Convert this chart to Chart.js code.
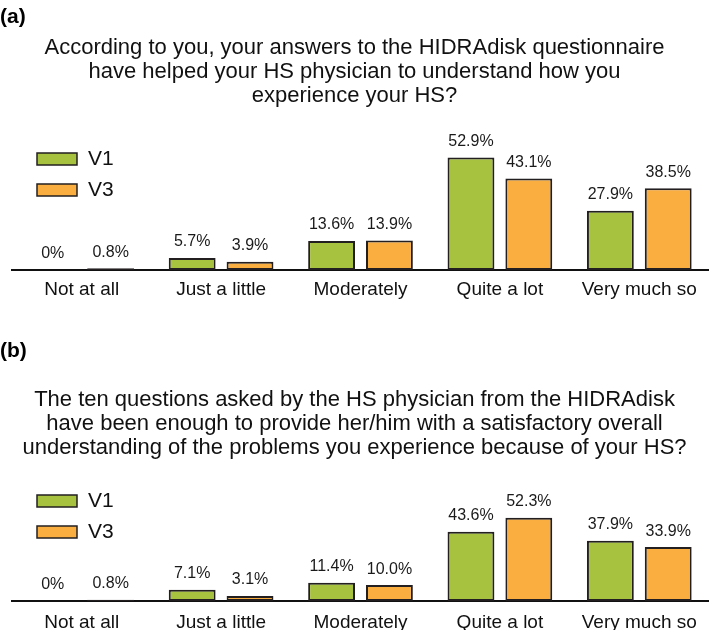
<!DOCTYPE html>
<html>
<head>
<meta charset="utf-8">
<script src="https://cdn.jsdelivr.net/npm/chart.js@4/dist/chart.umd.min.js"></script>
<style>
  html, body { margin: 0; padding: 0; background: #fff; }
  #wrap { position: relative; width: 709px; height: 630px; overflow: hidden; }
  canvas { position: absolute; left: 0; display: block; }
  #ca { top: 0; }
  #cb { top: 320px; }
</style>
</head>
<body>
<div id="wrap">
  <canvas id="ca" width="709" height="320"></canvas>
  <canvas id="cb" width="709" height="310"></canvas>
</div>
<script>
// ---- data ----
const categories = ['Not at all', 'Just a little', 'Moderately', 'Quite a lot', 'Very much so'];
const seriesNames = ['V1', 'V3'];
const panelLabels = ['(a)', '(b)'];
const questionA = [
  'According to you, your answers to the HIDRAdisk questionnaire',
  'have helped your HS physician to understand how you',
  'experience your HS?'
];
const questionB = [
  'The ten questions asked by the HS physician from the HIDRAdisk',
  'have been enough to provide her/him with a satisfactory overall',
  'understanding of the problems you experience because of your HS?'
];
const aV1 = [0, 5.7, 13.6, 52.9, 27.9];
const aV3 = [0.8, 3.9, 13.9, 43.1, 38.5];
const bV1 = [0, 7.1, 11.4, 43.6, 37.9];
const bV3 = [0.8, 3.1, 10.0, 52.3, 33.9];

// ---- styles ----
const FONT = "'Liberation Sans', Arial, Helvetica, sans-serif";
const GREEN = '#a6c23e';
const ORANGE = '#fbae40';
const EDGE = '#231f20';

function fmt(v) { return v === 0 ? '0%' : v.toFixed(1) + '%'; }

const valueLabels = {
  id: 'valueLabels',
  afterDatasetsDraw(chart) {
    const ctx = chart.ctx;
    ctx.save();
    ctx.font = '16px ' + FONT;
    ctx.fillStyle = '#1a1a1a';
    ctx.textAlign = 'center';
    ctx.textBaseline = 'middle';
    chart.data.datasets.forEach((ds, di) => {
      const meta = chart.getDatasetMeta(di);
      meta.data.forEach((el, i) => {
        ctx.fillText(fmt(ds.data[i]), el.x, el.y - 16);
      });
    });
    ctx.restore();
  }
};

const boxLegend = {
  id: 'boxLegend',
  afterDraw(chart, args, opts) {
    const ctx = chart.ctx;
    ctx.save();
    ctx.font = '21px ' + FONT;
    ctx.textBaseline = 'middle';
    ctx.textAlign = 'left';
    chart.data.datasets.forEach((ds, i) => {
      const y = opts.top + i * opts.gap;
      ctx.fillStyle = ds.backgroundColor;
      ctx.fillRect(37, y, 40, 12);
      ctx.strokeStyle = EDGE;
      ctx.lineWidth = 1.5;
      ctx.strokeRect(37, y, 40, 12);
      ctx.fillStyle = '#111';
      ctx.fillText(ds.label, 88, y + 6.5);
    });
    ctx.restore();
  }
};

function makeChart(id, label, question, v1, v3, cfg) {
  return new Chart(document.getElementById(id), {
    type: 'bar',
    data: {
      labels: categories,
      datasets: [
        { label: seriesNames[0], data: v1, backgroundColor: GREEN, borderColor: EDGE,
          borderWidth: 2, borderSkipped: false, categoryPercentage: 0.83, barPercentage: 0.81 },
        { label: seriesNames[1], data: v3, backgroundColor: ORANGE, borderColor: EDGE,
          borderWidth: 2, borderSkipped: false, categoryPercentage: 0.83, barPercentage: 0.81 }
      ]
    },
    options: {
      responsive: false,
      animation: false,
      layout: { padding: 0 },
      plugins: {
        legend: { display: false },
        tooltip: { enabled: false },
        title: {
          display: true, text: label, align: 'start', color: '#000',
          font: { family: FONT, size: 21, weight: 'bold', lineHeight: 1.2 },
          padding: { top: cfg.titleTop, bottom: 0 }
        },
        subtitle: {
          display: true, text: question, align: 'center', color: '#111',
          font: { family: FONT, size: 22, lineHeight: 24 / 22 },
          padding: { top: cfg.subTop, bottom: cfg.subBottom }
        },
        boxLegend: { top: cfg.legendTop, gap: 31 }
      },
      scales: {
        x: {
          grid: { display: false },
          border: { display: true, color: '#111', width: 2 },
          ticks: { color: '#111', font: { family: FONT, size: 19 }, padding: cfg.tickPad, maxRotation: 0, autoSkip: false },
          afterFit: (s) => { s.height = cfg.axisH; }
        },
        y: {
          min: 0, max: 70,
          grid: { display: false },
          border: { display: false },
          ticks: { display: false },
          afterFit: (s) => { s.width = 12; }
        }
      }
    },
    plugins: [valueLabels, boxLegend]
  });
}

makeChart('ca', panelLabels[0], questionA, aV1, aV3,
  { titleTop: 5, subTop: 6, subBottom: 13, axisH: 50, tickPad: 0, legendTop: 153 });
makeChart('cb', panelLabels[1], questionB, bV1, bV3,
  { titleTop: 19, subTop: 24, subBottom: 29.5, axisH: 29, tickPad: 2, legendTop: 175 });
</script>
</body>
</html>
